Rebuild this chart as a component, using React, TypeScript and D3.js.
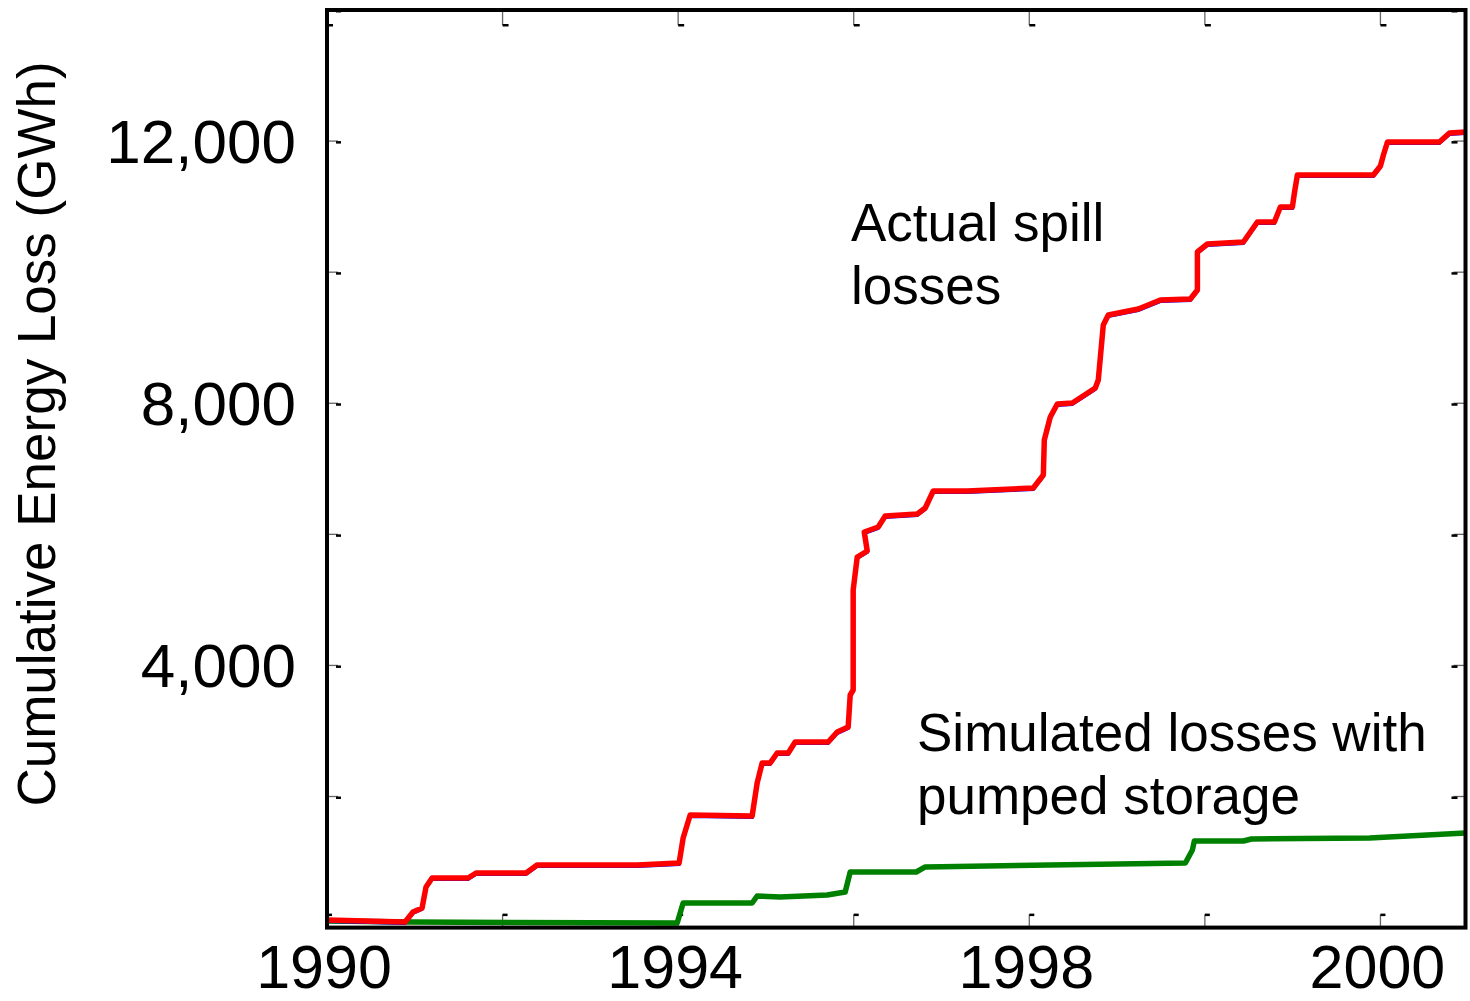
import React from "react";
import * as d3 from "d3";

// ---- data (x = years on the axis grid, measured from the 1990 origin; y = GWh) ----
const spillT = [0, 0.889, 0.98, 1.083, 1.128, 1.197, 1.607, 1.698, 2.268, 2.393, 3.533, 4.011, 4.057, 4.137, 4.843, 4.9, 4.957, 5.048, 5.128, 5.254, 5.333, 5.709, 5.812, 5.937, 5.96, 5.994, 5.994, 6.04, 6.154, 6.12, 6.279, 6.359, 6.724, 6.815, 6.906, 7.293, 8.046, 8.16, 8.171, 8.239, 8.319, 8.49, 8.752, 8.786, 8.843, 8.9, 9.014, 9.242, 9.493, 9.835, 9.915, 9.915, 10.028, 10.439, 10.598, 10.792, 10.86, 10.997, 11.02, 11.054, 11.92, 12.0, 12.034, 12.08, 12.672, 12.786, 12.969];
const spillGWh = [116, 85, 238, 299, 619, 757, 757, 833, 833, 955, 955, 986, 1367, 1718, 1703, 2206, 2511, 2511, 2664, 2664, 2832, 2832, 2984, 3061, 3549, 3625, 5151, 5654, 5746, 6036, 6112, 6280, 6310, 6402, 6661, 6661, 6707, 6905, 7439, 7790, 7989, 8004, 8233, 8355, 9194, 9346, 9377, 9438, 9575, 9591, 9728, 10308, 10430, 10460, 10765, 10765, 10994, 10994, 11208, 11482, 11482, 11620, 11788, 11986, 11986, 12123, 12138];

const pumpedT = [0, 0.934, 3.989, 4.057, 4.843, 4.9, 5.162, 5.698, 5.903, 5.96, 6.712, 6.815, 9.778, 9.858, 9.88, 10.439, 10.53, 11.875, 12.969];
const pumpedGWh = [101, 85, 70, 375, 375, 482, 467, 497, 543, 848, 848, 925, 986, 1184, 1321, 1321, 1352, 1367, 1443];

const xTicks = [0, 2, 4, 6, 8, 10, 12];
const xTickLabels = ["1990", "", "1994", "", "1998", "", "2000"];
const yTicks = [2000, 4000, 6000, 8000, 10000, 12000, 14000];
const yTickLabels = ["", "4,000", "", "8,000", "", "12,000", ""];

const yTitle = "Cumulative Energy Loss (GWh)";
const spillLabel = ["Actual spill", "losses"];
const pumpedLabel = ["Simulated losses with", "pumped storage"];

const FONT = "'Liberation Sans', Arial, Helvetica, sans-serif";

export default function App() {
  const left = 327, right = 1465.5, top = 10, bottom = 927.6;
  const x = d3.scaleLinear().domain([0, 12.969]).range([left, right]);
  const y = d3.scaleLinear().domain([0, 14000]).range([bottom, top]);

  const line = d3.line<[number, number]>().x(d => x(d[0])).y(d => y(d[1]));
  const spillPts: [number, number][] = spillT.map((t, i) => [t, spillGWh[i]]);
  const pumpedPts: [number, number][] = pumpedT.map((t, i) => [t, pumpedGWh[i]]);

  return (
    <svg width={1470} height={1001} style={{ position: "absolute", left: 0, top: 0, background: "#fff" }}
      fontFamily={FONT}>
      <rect x={0} y={0} width={1470} height={1001} fill="#fff" />
      <defs>
        <clipPath id="plotclip">
          <rect x={left} y={top} width={right - left} height={bottom - top} />
        </clipPath>
      </defs>

      {/* ticks */}
      {xTicks.map((t, i) => (
        <g key={"xt" + i}>
          <line x1={x(t)} x2={x(t)} y1={bottom} y2={bottom - 13} stroke="#666" strokeWidth={1.3} />
          <rect x={x(t)} y={bottom - 14} width={5} height={2.5} fill="#000" />
          <line x1={x(t)} x2={x(t)} y1={top} y2={top + 15} stroke="#666" strokeWidth={1.3} />
          <rect x={x(t)} y={top + 14} width={6} height={2.5} fill="#000" />
        </g>
      ))}
      {yTicks.map((v, i) => (
        <g key={"yt" + i}>
          <line x1={left} x2={left + 11} y1={y(v)} y2={y(v)} stroke="#666" strokeWidth={1.3} />
          <rect x={left + 9} y={y(v)} width={5} height={2.5} fill="#000" />
          <line x1={right} x2={right - 12} y1={y(v)} y2={y(v)} stroke="#666" strokeWidth={1.3} />
          <rect x={right - 14} y={y(v)} width={6} height={2.5} fill="#000" />
        </g>
      ))}

      {/* series */}
      <g clipPath="url(#plotclip)">
        <path d={line(pumpedPts) || ""} fill="none" stroke="#008000" strokeWidth={5.5} strokeLinejoin="round" />
        <path d={line(spillPts) || ""} fill="none" stroke="#0000ff" strokeWidth={3} transform="translate(0,1.5)" />
        <path d={line(spillPts) || ""} fill="none" stroke="#ff0000" strokeWidth={5.5} strokeLinejoin="round" />
      </g>

      {/* frame */}
      <rect x={left} y={top} width={right - left} height={bottom - top} fill="none" stroke="#000" strokeWidth={4} />

      {/* tick labels */}
      {xTicks.map((t, i) => xTickLabels[i] ? (
        <text key={"xl" + i} x={x(t) - 3} y={988} textAnchor="middle" fontSize={61} fill="#000">{xTickLabels[i]}</text>
      ) : null)}
      {yTicks.map((v, i) => yTickLabels[i] ? (
        <text key={"yl" + i} x={296} y={y(v) + 22} textAnchor="end" fontSize={62} fill="#000">{yTickLabels[i]}</text>
      ) : null)}

      {/* axis title */}
      <text transform="translate(55,434) rotate(-90)" textAnchor="middle" fontSize={53} fill="#000">{yTitle}</text>

      {/* annotations */}
      {spillLabel.map((s, i) => (
        <text key={"sl" + i} x={851} y={241 + i * 63} fontSize={53} fill="#000">{s}</text>
      ))}
      {pumpedLabel.map((s, i) => (
        <text key={"pl" + i} x={917} y={751 + i * 63} fontSize={53} fill="#000">{s}</text>
      ))}
    </svg>
  );
}
